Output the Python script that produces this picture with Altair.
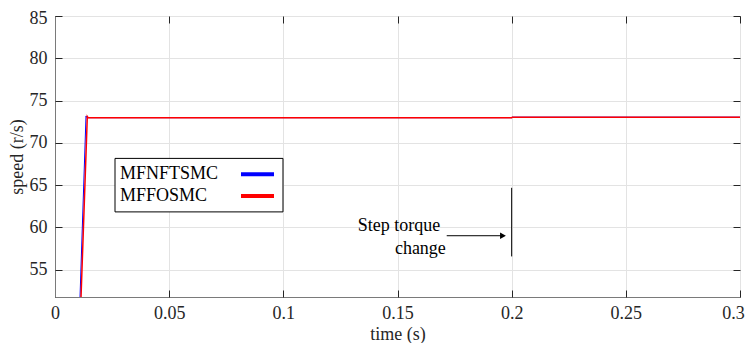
import altair as alt
import pandas as pd

# ---- data ----
blue_t = [0.01095, 0.01358, 0.0140, 0.1000, 0.2000, 0.2003, 0.3000]
blue_v = [51.70, 73.17, 72.97, 72.97, 72.97, 73.03, 73.03]
red_t = [0.01139, 0.01415, 0.0145, 0.1000, 0.2000, 0.2003, 0.3000]
red_v = [51.70, 73.10, 72.97, 72.97, 72.97, 73.03, 73.03]
series_names = ["MFNFTSMC", "MFFOSMC"]
series_colors = ["#0000ff", "#ff0000"]
x_ticks = [0, 0.05, 0.1, 0.15, 0.2, 0.25, 0.3]
y_ticks = [55, 60, 65, 70, 75, 80, 85]
annot_text = ["Step torque", "change"]

W, H = 685, 281
FONT = "Liberation Serif"
AX = "#262626"

xs = alt.Scale(domain=[0, 0.3], nice=False, zero=False)
ys = alt.Scale(domain=[51.75, 85], nice=False, zero=False)

df_b = pd.DataFrame({"t": blue_t, "v": blue_v})
df_r = pd.DataFrame({"t": red_t, "v": red_v})

common_axis = dict(labelFont=FONT, labelFontSize=18, labelColor=AX,
                   titleFont=FONT, titleFontSize=18, titleColor=AX,
                   titleFontWeight="normal")

# main axes: labels, grid
x_main = alt.Axis(values=x_ticks, orient="bottom", ticks=False, tickSize=0,
                  labelPadding=7, grid=True, gridColor="#e3e3e3",
                  domainColor="#7a7a7a", title="time (s)", titlePadding=3,
                  labelExpr="datum.value == 0 ? '0' : format(datum.value, '.2~f')",
                  labelOffset={"condition": {"test": "datum.value >= 0.29", "value": -7}, "value": 0},
                  labelFlush=False, **common_axis)
y_main = alt.Axis(values=y_ticks, orient="left", ticks=False, tickSize=0,
                  labelPadding=8, grid=True, gridColor="#e3e3e3",
                  domainColor="#7a7a7a", title="speed (r/s)", titlePadding=3,
                  labelOffset={"condition": {"test": "datum.value >= 84", "value": 2}, "value": 0},
                  labelFlush=False, **common_axis)

blue = alt.Chart(df_b).mark_line(color=series_colors[0], strokeWidth=1.0, clip=True).encode(
    x=alt.X("t:Q", scale=xs, axis=x_main),
    y=alt.Y("v:Q", scale=ys, axis=y_main),
)

# inward ticks on bottom and left (axes flipped into the plot)
x_in_b = alt.Axis(values=x_ticks, orient="top", offset=-H, labels=False, ticks=True,
                  tickSize=7, tickColor=AX, domain=False, grid=False, title=None)
y_in_l = alt.Axis(values=y_ticks, orient="right", offset=-W, labels=False, ticks=True,
                  tickSize=7, tickColor=AX, domain=False, grid=False, title=None)
red = alt.Chart(df_r).mark_line(color=series_colors[1], strokeWidth=1.5, clip=True).encode(
    x=alt.X("t:Q", scale=xs, axis=x_in_b),
    y=alt.Y("v:Q", scale=ys, axis=y_in_l),
)

# inward ticks on top and right
x_in_t = alt.Axis(values=x_ticks, orient="bottom", offset=-H, labels=False, ticks=True,
                  tickSize=7, tickColor=AX, domain=False, grid=False, title=None)
y_in_r = alt.Axis(values=y_ticks, orient="left", offset=-W, labels=False, ticks=True,
                  tickSize=7, tickColor=AX, domain=False, grid=False, title=None)

# ---- legend (drawn in data coordinates) ----
leg_box = pd.DataFrame({"x0": [0.02628], "x1": [0.09985], "y0": [61.82], "y1": [68.15]})
box = alt.Chart(leg_box).mark_rect(fill="white", stroke="#000000", strokeWidth=1).encode(
    x=alt.X("x0:Q", scale=xs, axis=x_in_t), x2="x1:Q",
    y=alt.Y("y0:Q", scale=ys, axis=y_in_r), y2="y1:Q",
)
leg_items = pd.DataFrame({
    "name": series_names,
    "color": series_colors,
    "tx": [0.02847, 0.02847],
    "ty": [66.28, 63.70],
    "lx0": [0.08146, 0.08146],
    "lx1": [0.09591, 0.09591],
})
leg_text = alt.Chart(leg_items).mark_text(align="left", baseline="middle", font=FONT,
                                          fontSize=18, color="#000000").encode(
    x=alt.X("tx:Q", scale=xs, axis=None),
    y=alt.Y("ty:Q", scale=ys, axis=None),
    text="name:N",
)
leg_lines = alt.Chart(leg_items).mark_rule(strokeWidth=4).encode(
    x=alt.X("lx0:Q", scale=xs, axis=None), x2="lx1:Q",
    y=alt.Y("ty:Q", scale=ys, axis=None),
    color=alt.Color("color:N", scale=None),
)

# ---- annotation ----
vline = alt.Chart(pd.DataFrame({"t": [0.2], "a": [56.55], "b": [64.67]})).mark_rule(
    color="#000000", strokeWidth=1).encode(
    x=alt.X("t:Q", scale=xs, axis=None),
    y=alt.Y("a:Q", scale=ys, axis=None), y2="b:Q",
)
arrow = alt.Chart(pd.DataFrame({"t0": [0.17155], "t1": [0.1960], "v": [59.0]})).mark_rule(
    color="#000000", strokeWidth=1).encode(
    x=alt.X("t0:Q", scale=xs, axis=None), x2="t1:Q",
    y=alt.Y("v:Q", scale=ys, axis=None),
)
head = alt.Chart(pd.DataFrame({"t": [0.1962], "v": [59.0]})).mark_point(
    shape="triangle-right", filled=True, color="#000000", size=45, opacity=1).encode(
    x=alt.X("t:Q", scale=xs, axis=None),
    y=alt.Y("v:Q", scale=ys, axis=None),
)
ann = pd.DataFrame({"txt": annot_text, "t": [0.16871, 0.17118], "v": [60.2, 57.47]})
ann_text = alt.Chart(ann).mark_text(align="right", baseline="middle", font=FONT,
                                    fontSize=18, color="#000000").encode(
    x=alt.X("t:Q", scale=xs, axis=None),
    y=alt.Y("v:Q", scale=ys, axis=None),
    text="txt:N",
)

chart = alt.layer(blue, red, box, leg_lines, leg_text, vline, arrow, head, ann_text).resolve_axis(
    x="independent", y="independent"
).properties(
    width=W, height=H,
    autosize=alt.AutoSizeParams(type="none"),
    padding={"left": 47, "top": 8, "right": 5, "bottom": 46},
    background="white",
).configure_view(stroke=AX, strokeWidth=1)

chart.save("out.html", embed_options={"renderer": "svg", "actions": False})
